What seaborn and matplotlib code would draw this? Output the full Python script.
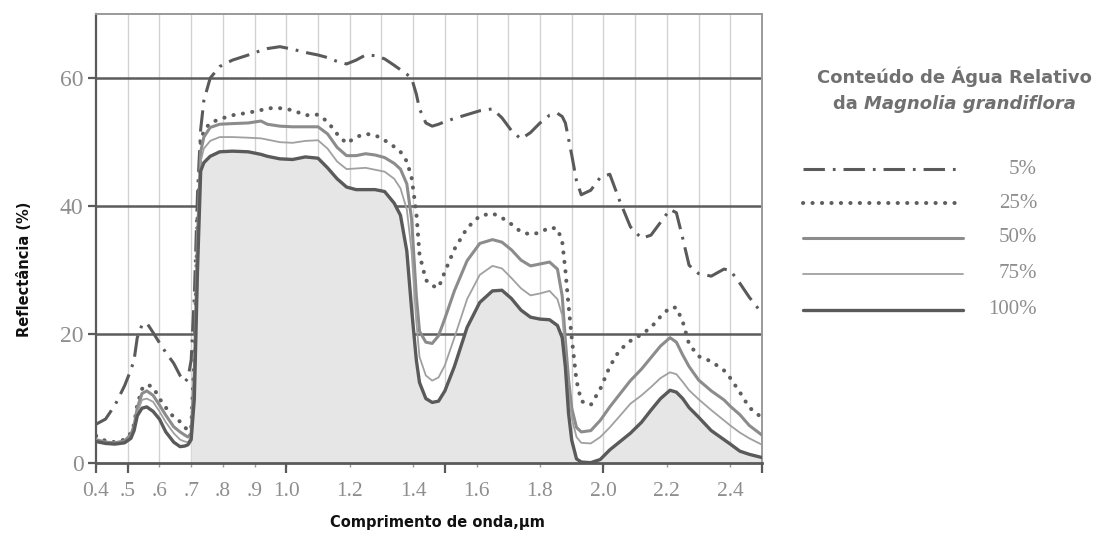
import numpy as np
import pandas as pd
import matplotlib
matplotlib.use("Agg")
import matplotlib.pyplot as plt
import seaborn as sns

# Wavelength grid (micrometres)
wavelength = [0.40, 0.43, 0.46, 0.49, 0.51, 0.52, 0.53, 0.545, 0.56, 0.58,
              0.60, 0.62, 0.645, 0.665, 0.68, 0.69, 0.70, 0.71, 0.72, 0.73,
              0.74, 0.76, 0.79, 0.83, 0.88, 0.92, 0.94, 0.98, 1.02, 1.06,
              1.10, 1.13, 1.16, 1.19, 1.22, 1.25, 1.28, 1.31, 1.34, 1.36,
              1.38, 1.395, 1.41, 1.42, 1.44, 1.46, 1.48, 1.50, 1.53, 1.57,
              1.61, 1.65, 1.68, 1.71, 1.74, 1.77, 1.80, 1.83, 1.855, 1.87,
              1.88, 1.89, 1.90, 1.915, 1.93, 1.96, 1.99, 2.02, 2.05, 2.085,
              2.12, 2.15, 2.18, 2.21, 2.23, 2.25, 2.27, 2.30, 2.34, 2.38,
              2.40, 2.43, 2.46, 2.50]

# Reflectance (%) for each relative water content
refl_5 = [6.0, 6.8, 9.0, 12.0, 14.5, 16.0, 19.5, 21.5, 21.8, 20.3,
          18.7, 17.2, 15.5, 13.6, 12.6, 13.2, 16.0, 26.0, 42.0, 52.0,
          56.5, 60.0, 61.8, 62.8, 63.6, 64.3, 64.6, 64.9, 64.5, 64.0,
          63.6, 63.2, 62.6, 62.2, 62.8, 63.6, 63.5, 63.0, 62.0, 61.3,
          60.6, 60.0, 57.5, 55.2, 53.0, 52.5, 52.8, 53.2, 53.7, 54.3,
          54.9, 55.2, 53.8, 51.8, 50.5, 51.5, 53.0, 54.2, 54.5, 54.0,
          53.0, 50.5, 48.0, 44.0, 41.8, 42.5, 44.5, 45.0, 41.0, 36.8,
          35.0, 35.5, 37.5, 39.5, 39.0, 35.0, 30.8, 29.5, 29.1, 30.2,
          30.0, 28.0, 25.8, 23.3]
refl_25 = [4.2, 3.4, 3.2, 3.6, 4.6, 6.0, 9.0, 11.5, 12.2, 11.8,
           10.0, 8.6, 7.1, 6.4, 5.6, 4.9, 5.5, 16.0, 38.0, 50.0,
           51.8, 53.0, 53.6, 54.2, 54.6, 55.0, 55.3, 55.3, 55.0, 54.2,
           54.3, 53.2, 51.3, 49.8, 50.8, 51.3, 51.1, 50.3, 49.3, 48.5,
           47.0, 44.5, 39.0, 32.5, 28.5, 27.6, 27.3, 29.8, 33.3, 36.6,
           38.5, 38.9, 38.2, 37.2, 36.0, 35.6, 35.9, 36.7, 36.5, 34.5,
           30.0, 24.5, 19.5, 12.8, 9.6, 9.0, 11.5, 15.0, 17.5, 19.0,
           20.0, 21.1, 22.8, 24.2, 24.2, 22.0, 18.5, 16.6, 15.8, 14.4,
           13.2, 11.0, 8.6, 7.0]
refl_50 = [3.6, 3.2, 3.1, 3.4, 4.4, 5.8, 8.5, 10.8, 11.2, 10.5,
           9.0, 7.4, 5.6, 4.8, 4.3, 4.0, 4.6, 14.0, 35.0, 48.5,
           50.8, 52.3, 52.8, 52.9, 53.0, 53.3, 52.8, 52.5, 52.4, 52.4,
           52.4, 51.3, 49.2, 47.9, 47.9, 48.2, 48.0, 47.6, 46.7, 45.8,
           43.5, 38.0, 26.0, 20.5, 18.8, 18.6, 19.8, 22.5, 26.8, 31.5,
           34.2, 34.8, 34.4, 33.2, 31.6, 30.7, 31.0, 31.3, 30.2, 26.0,
           19.0, 13.0, 8.5, 5.5, 4.8, 5.0, 6.6, 8.7, 10.6, 12.8,
           14.6, 16.4, 18.2, 19.5, 18.8, 16.8, 15.0, 12.9, 11.2, 9.8,
           8.8, 7.5, 5.8, 4.3]
refl_75 = [3.4, 3.1, 3.0, 3.2, 4.0, 5.4, 7.8, 9.8, 10.0, 9.5,
           8.0, 6.3, 4.6, 3.6, 3.3, 3.2, 4.0, 12.0, 33.0, 47.0,
           49.0, 50.2, 50.8, 50.8, 50.7, 50.6, 50.4, 50.0, 49.9, 50.2,
           50.3, 49.0, 47.0, 45.8, 45.9, 46.0, 45.7, 45.4, 44.3, 42.8,
           39.5, 33.0, 22.0, 16.5, 13.6, 12.8, 13.3, 15.2, 19.5, 25.5,
           29.3, 30.7, 30.3, 28.8, 27.2, 26.1, 26.4, 26.8, 25.5, 23.0,
           17.0, 11.0, 7.0, 4.0, 3.1, 3.0, 4.0, 5.5, 7.2, 9.2,
           10.5, 11.8, 13.2, 14.1, 13.8, 12.6, 11.3, 9.9, 8.2, 6.6,
           5.8, 4.7, 3.8, 2.8]
refl_100 = [3.3, 3.0, 2.9, 3.1, 3.8, 5.0, 7.3, 8.5, 8.7, 8.0,
            6.8, 4.8, 3.2, 2.5, 2.6, 2.8, 3.6, 10.0, 30.0, 45.5,
            46.8, 47.8, 48.5, 48.6, 48.5, 48.1, 47.8, 47.4, 47.3, 47.7,
            47.5, 46.0, 44.3, 43.0, 42.6, 42.6, 42.6, 42.3, 40.5, 38.6,
            33.0, 24.0, 16.0, 12.5, 10.0, 9.4, 9.6, 11.2, 15.0, 21.1,
            25.0, 26.8, 26.9, 25.6, 23.8, 22.7, 22.4, 22.3, 21.4, 19.5,
            14.9, 7.7, 3.5, 0.6, 0.1, 0.0, 0.5, 2.0, 3.2, 4.6,
            6.3, 8.2, 10.0, 11.3, 11.0, 10.0, 8.6, 7.1, 5.0, 3.6,
            2.9, 1.8, 1.3, 0.8]

series_labels = ["5%", "25%", "50%", "75%", "100%"]
series_values = [refl_5, refl_25, refl_50, refl_75, refl_100]

tick_positions = [0.4, 0.5, 0.6, 0.7, 0.8, 0.9, 1.0, 1.2, 1.4, 1.6, 1.8, 2.0, 2.2, 2.4]
tick_labels = ["0.4", ".5", ".6", ".7", ".8", ".9", "1.0", "1.2", "1.4", "1.6", "1.8", "2.0", "2.2", "2.4"]
y_ticks = [0, 20, 40, 60]

# Line appearance for each series
styles = {
    "5%":   dict(color="#5a5a5a", lw=2.2, ls=(0, (7, 2.6, 0.9, 2.6)), cap="butt"),
    "25%":  dict(color="#5e5e5e", lw=2.9, ls=(0, (0.05, 2.3)), cap="round"),
    "50%":  dict(color="#8c8c8c", lw=2.2, ls="-", cap="butt"),
    "75%":  dict(color="#a0a0a0", lw=1.3, ls="-", cap="butt"),
    "100%": dict(color="#5a5a5a", lw=2.4, ls="-", cap="butt"),
}

frames = [pd.DataFrame({"wavelength": wavelength, "reflectance": vals, "content": lab})
          for lab, vals in zip(series_labels, series_values)]
df = pd.concat(frames, ignore_index=True)

sns.set_theme(style="white")
plt.rcParams["font.family"] = ["DejaVu Sans"]

fig = plt.figure(figsize=(11.05, 5.38), dpi=100)
ax = fig.add_axes([0.0869, 0.14, 0.6027, 0.834])

ax.set_xlim(0.4, 2.5)
ax.set_ylim(0, 70)

# Grid: light vertical lines every 0.1 um, heavy horizontal lines every 20 %
for xv in np.arange(0.5, 2.45, 0.1):
    ax.axvline(xv, color="#d2d2d2", lw=1.0, zorder=0)
for yv in [20, 40, 60]:
    ax.axhline(yv, color="#5c5c5c", lw=1.8, zorder=0.5)

# Shaded region beneath the fully hydrated leaf spectrum
d100 = df[df["content"] == "100%"]
mask = d100["wavelength"].to_numpy() >= 0.70
ax.fill_between(d100["wavelength"].to_numpy()[mask], 0, d100["reflectance"].to_numpy()[mask],
                color="#e6e6e6", lw=0, zorder=1)

for lab in series_labels:
    st = styles[lab]
    sub = df[df["content"] == lab]
    sns.lineplot(data=sub, x="wavelength", y="reflectance", ax=ax, estimator=None,
                 color=st["color"], lw=st["lw"], linestyle=st["ls"],
                 dash_capstyle=st["cap"], legend=False, zorder=3)

# Spines
for side, col, w in [("left", "#5a5a5a", 1.6), ("bottom", "#5a5a5a", 2.0),
                     ("top", "#9a9a9a", 1.4), ("right", "#9a9a9a", 1.4)]:
    ax.spines[side].set_visible(True)
    ax.spines[side].set_color(col)
    ax.spines[side].set_linewidth(w)

# Ticks
ax.set_xticks(tick_positions)
ax.set_xticklabels(tick_labels, fontfamily="Liberation Serif", fontsize=15.5, color="#8e8e8e")
ax.set_xticks([0.4, 0.5, 1.0, 1.5, 2.0, 2.5], minor=True)
ax.xaxis.remove_overlapping_locs = False
ax.tick_params(axis="x", which="major", direction="out", length=3, width=1.0,
               color="#9a9a9a", pad=11, bottom=True)
ax.tick_params(axis="x", which="minor", direction="out", length=7, width=1.6,
               color="#5a5a5a", bottom=True)
ax.set_yticks(y_ticks)
ax.set_yticklabels([str(v) for v in y_ticks], fontfamily="Liberation Serif",
                   fontsize=17, color="#8e8e8e")
ax.tick_params(axis="y", which="major", direction="out", length=6, width=1.6,
               color="#5a5a5a", pad=3, left=True)

ax.set_xlabel("Comprimento de onda,\u00b5m", fontsize=10.5, fontweight="bold",
              color="#111111", va="center")
ax.xaxis.set_label_coords(0.513, -0.134)
ax.set_ylabel("Reflectância (%)", fontsize=10.5, fontweight="bold",
              color="#111111", va="center")
ax.yaxis.set_label_coords(-0.107, 0.43)

# Legend drawn as a free panel to the right of the plot
leg = fig.add_axes([0.0, 0.0, 1.0, 1.0], facecolor="none")
leg.set_xlim(0, 1105)
leg.set_ylim(538, 0)
leg.axis("off")
title_kw = dict(va="center", fontsize=13, fontweight="bold", color="#707070")
leg.text(954, 77, "Conteúdo de Água Relativo", ha="center", **title_kw)

# Second title line: upright "da" followed by the italic species name
renderer = fig.canvas.get_renderer()
t_da = leg.text(0, 104, "da ", ha="left", **title_kw)
t_sp = leg.text(0, 104, "Magnolia grandiflora", ha="left", fontstyle="italic", **title_kw)
w_da = t_da.get_window_extent(renderer).width
w_sp = t_sp.get_window_extent(renderer).width
x0 = 954 - (w_da + w_sp) / 2
t_da.set_x(x0)
t_sp.set_x(x0 + w_da)

legend_rows = [169, 203, 238, 274, 310]
for lab, yy in zip(series_labels, legend_rows):
    st = styles[lab]
    leg.plot([803, 963], [yy, yy], color=st["color"], lw=st["lw"], linestyle=st["ls"],
             dash_capstyle=st["cap"])
    leg.text(1037, yy, lab, ha="right", va="center", fontfamily="Liberation Serif",
             fontsize=15, color="#8e8e8e")

fig.savefig("out.png", dpi=100)
